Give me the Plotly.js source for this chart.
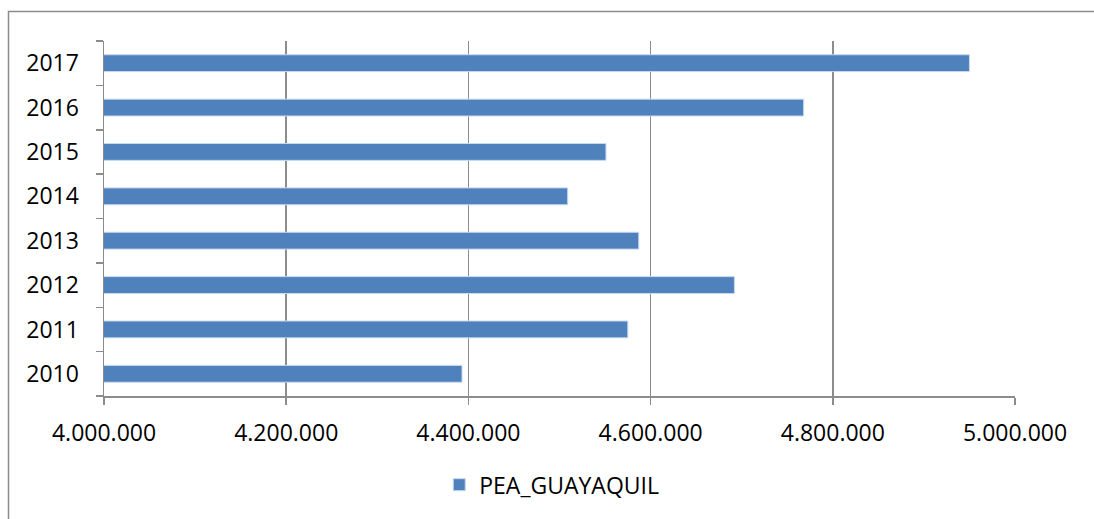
<!DOCTYPE html>
<html>
<head>
<meta charset="utf-8">
<script src="https://cdn.plot.ly/plotly-3.0.1.min.js"></script>
<style>
  html, body { margin: 0; padding: 0; background: #ffffff; }
  #chart { width: 1094px; height: 519px; }
</style>
</head>
<body>
<div id="chart"></div>
<script>
const years = ["2010", "2011", "2012", "2013", "2014", "2015", "2016", "2017"];
const peaGuayaquil = [4393000, 4575000, 4692000, 4587000, 4509000, 4551000, 4768000, 4950000];
const seriesName = "PEA_GUAYAQUIL";
const xTickVals = [4000000, 4200000, 4400000, 4600000, 4800000, 5000000];

const axisGrey = "#8c8c8c";
const fontFamily = "'Open Sans', 'Liberation Sans', sans-serif";
const fontSize = 23;

const trace = {
  type: "bar",
  orientation: "h",
  x: peaGuayaquil,
  y: years,
  name: seriesName,
  marker: { color: "#4F81BD", line: { color: "#c6d9f0", width: 1 } },
  hoverinfo: "x+y"
};

const layout = {
  width: 1094,
  height: 519,
  margin: { l: 104, r: 79, t: 41, b: 123 },
  paper_bgcolor: "#ffffff",
  plot_bgcolor: "#ffffff",
  separators: ",.",
  bargap: 0.62,
  showlegend: true,
  legend: {
    orientation: "h",
    x: 0.368, xanchor: "left",
    y: -0.25, yanchor: "middle",
    font: { family: fontFamily, size: fontSize, color: "#000000" },
    itemwidth: 30
  },
  font: { family: fontFamily, size: fontSize, color: "#000000" },
  xaxis: {
    type: "linear",
    range: [4000000, 5000000],
    tickvals: xTickVals,
    tickformat: ",d",
    showgrid: true,
    gridcolor: axisGrey,
    gridwidth: 1.5,
    zeroline: false,
    showline: true,
    linecolor: axisGrey,
    linewidth: 1.5,
    ticks: "outside",
    ticklen: 7,
    tickwidth: 1.5,
    tickcolor: axisGrey,
    ticklabelstandoff: 9,
    tickfont: { family: fontFamily, size: fontSize, color: "#000000" },
    fixedrange: true
  },
  yaxis: {
    type: "category",
    categoryorder: "array",
    categoryarray: years,
    tickson: "boundaries",
    showgrid: false,
    zeroline: false,
    showline: true,
    linecolor: axisGrey,
    linewidth: 1.5,
    ticks: "outside",
    ticklen: 7,
    tickwidth: 1.5,
    tickcolor: axisGrey,
    ticklabelstandoff: 19,
    tickfont: { family: fontFamily, size: fontSize, color: "#000000" },
    fixedrange: true
  },
  shapes: [{
    type: "rect",
    xref: "paper", yref: "paper",
    x0: (8.5 - 104) / 911, x1: (1110 - 104) / 911,
    y0: (396 - 540) / 355, y1: (396 - 11.5) / 355,
    line: { color: axisGrey, width: 1.5 },
    fillcolor: "rgba(0,0,0,0)",
    layer: "below"
  }]
};

Plotly.newPlot("chart", [trace], layout, { displayModeBar: false, staticPlot: true });
</script>
</body>
</html>
